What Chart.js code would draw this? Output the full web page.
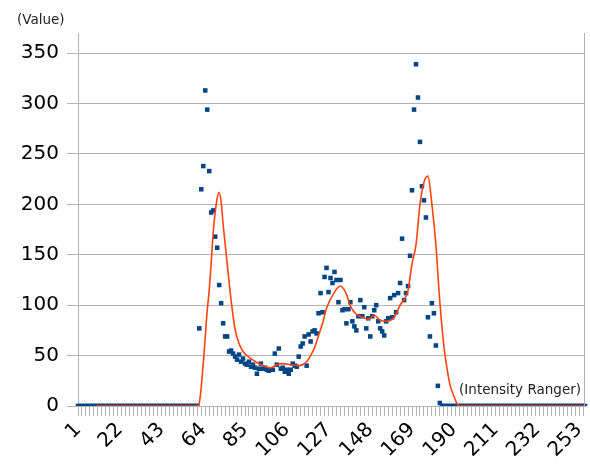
<!DOCTYPE html>
<html>
<head>
<meta charset="utf-8">
<script src="https://cdn.jsdelivr.net/npm/chart.js@4.4.1/dist/chart.umd.min.js"></script>
<style>
  html, body { margin: 0; padding: 0; background: #fff; }
  #chart { display: block; }
</style>
</head>
<body>
<canvas id="chart" width="590" height="469"></canvas>
<script>
// intensity categories 1..256
const categories = [];
for (let i = 1; i <= 256; i++) categories.push(String(i));

// measured values, one per intensity (1..256)
const values = [
  0,0,0,0,0,0,0,0,0,0, 0,0,0,0,0,0,0,0,0,0,
  0,0,0,0,0,0,0,0,0,0, 0,0,0,0,0,0,0,0,0,0,
  0,0,0,0,0,0,0,0,0,0, 0,0,0,0,0,0,0,0,0,0,
  0,
  77,215,238,313,294,233,192,194,168,157,
  120,102,82,69,69,54,55,52,49,46,
  51,44,47,42,41,44,39,41,38,32,
  37,42,37,38,36,35,36,36,52,41,
  57,37,38,34,36,32,36,42,40,39,
  49,59,62,69,40,71,64,74,75,72,
  92,112,93,128,137,113,127,122,133,125,
  103,125,95,96,82,96,103,84,79,75,
  89,105,89,98,77,87,69,89,95,100,
  84,77,74,70,84,87,107,88,110,93,
  112,122,166,105,112,119,149,214,294,339,
  306,262,218,204,187,88,69,102,92,60,
  20,3,
  0,0,0,0,0,0,0,0,0,0, 0,0,0,0,0,0,0,0,0,0,
  0,0,0,0,0,0,0,0,0,0, 0,0,0,0,0,0,0,0,0,0,
  0,0,0,0,0,0,0,0,0,0, 0,0,0,0,0,0,0,0,0,0,
  0,0,0,0,0,0,0,0,0,0, 0,0,0
];

// smoothed trend line, read at sample positions
const trendX = [10,61,62,64,66,67,68,69,70,71,72,73,74,76,78,80,82,84,88,93,98,101,104,108,112,
  116,118,120,122,124,126,130,133,136,138,141,144,147,150,153,156,160,163,167,169,171,173,175,177,
  179,181,183,185,186,188,190,192,193,256];
const trendY = [0,0,3,42,95,115,142,172,192,206,212,202,180,142,105,76,62,54,47,41,38,41,42,41,40,
  44,50,58,70,82,97,113,119,111,99,91,88,86,90,85,84,88,100,115,141,160,200,222,228,
  200,160,103,60,45,22,10,1,0,0];

const yTicks = [0, 50, 100, 150, 200, 250, 300, 350];
const xLabelStep = 21;

const gridGray = '#b3b3b3';

const extraText = {
  id: 'extraText',
  afterDraw(chart) {
    const ctx = chart.ctx;
    const area = chart.chartArea;
    ctx.save();
    ctx.strokeStyle = gridGray;
    ctx.lineWidth = 1;
    ctx.beginPath();
    ctx.moveTo(Math.round(area.right) - 0.5, area.top);
    ctx.lineTo(Math.round(area.right) - 0.5, area.bottom);
    ctx.stroke();
    ctx.fillStyle = '#222';
    ctx.font = '13.5px "DejaVu Sans"';
    ctx.textBaseline = 'alphabetic';
    ctx.textAlign = 'left';
    ctx.fillText('(Value)', 17, 24);
    ctx.textAlign = 'right';
    ctx.fillText('(Intensity Ranger)', 581, 394);
    ctx.restore();
  }
};

new Chart(document.getElementById('chart'), {
  type: 'line',
  data: {
    labels: categories,
    datasets: [
      {
        label: 'Trend',
        data: trendX.map((x, k) => ({ x: String(x), y: trendY[k] })),
        borderColor: '#ff420e',
        borderWidth: 1.6,
        pointRadius: 0,
        cubicInterpolationMode: 'monotone',
        spanGaps: true,
        fill: false
      },
      {
        label: 'Value',
        data: values,
        showLine: false,
        pointStyle: 'rect',
        pointRadius: 3.2,
        pointBackgroundColor: '#004586',
        pointBorderColor: '#004586',
        pointBorderWidth: 0
      }
    ]
  },
  options: {
    responsive: false,
    animation: false,
    layout: { padding: { top: 33, right: 5, left: 0, bottom: 0 } },
    plugins: {
      legend: { display: false },
      tooltip: { enabled: false }
    },
    scales: {
      x: {
        type: 'category',
        offset: false,
        afterFit: (axis) => {
          axis.height = 63;
          axis.paddingLeft = 0;
          axis.paddingRight = 0;
        },
        border: { color: gridGray },
        grid: {
          drawOnChartArea: false,
          drawTicks: true,
          tickLength: 10,
          tickColor: (c) => (c.index % 2 === 0 ? gridGray : 'rgba(0,0,0,0)')
        },
        ticks: {
          autoSkip: false,
          maxRotation: 45,
          minRotation: 45,
          padding: 2,
          color: '#000',
          font: { family: 'DejaVu Sans', size: 20 },
          callback: (v, i) => (i % xLabelStep === 0 ? categories[i] : '')
        }
      },
      y: {
        min: 0,
        max: 370,
        afterFit: (axis) => { axis.width = 78; },
        afterBuildTicks: (axis) => { axis.ticks = yTicks.map(v => ({ value: v })); },
        border: { color: gridGray },
        grid: { color: gridGray, tickLength: 11 },
        ticks: {
          padding: 8,
          color: '#000',
          font: { family: 'DejaVu Sans', size: 20 }
        }
      }
    }
  },
  plugins: [extraText]
});
</script>
</body>
</html>
